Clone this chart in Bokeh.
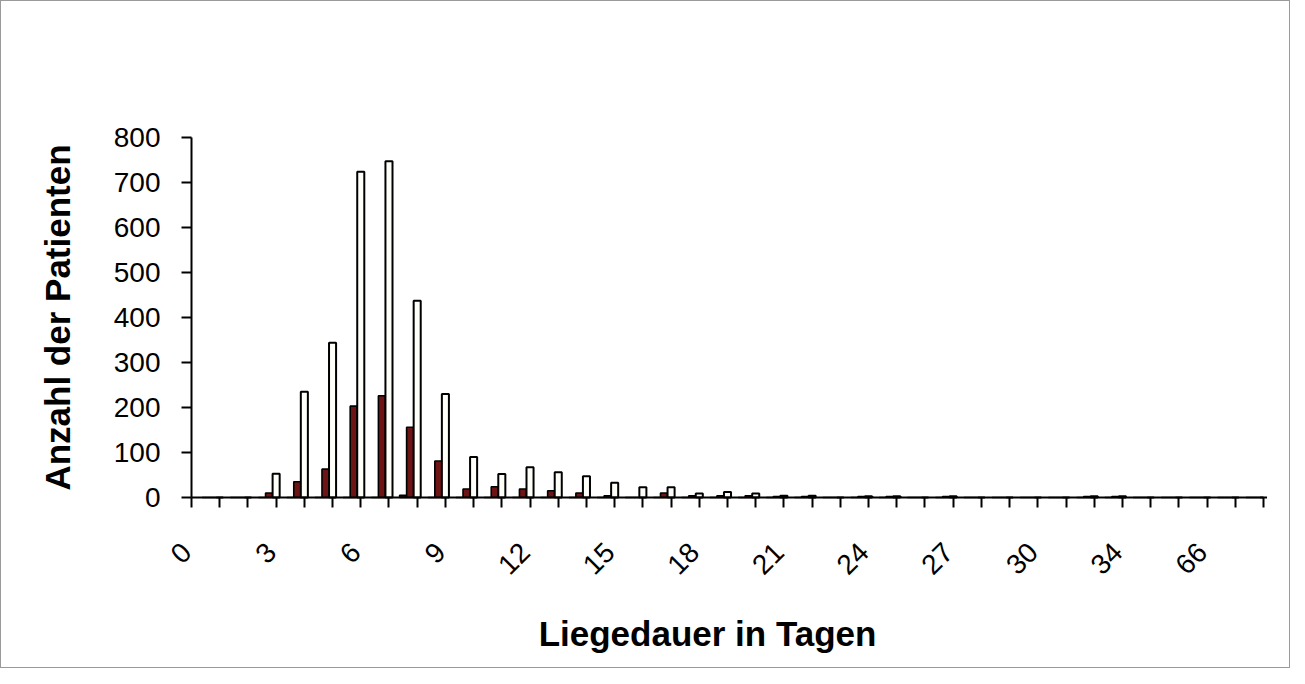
import numpy as np
from math import pi
from bokeh.plotting import figure
from bokeh.models import Range1d, FixedTicker, ColumnDataSource, LinearAxis
from bokeh.core.properties import value
from bokeh.embed import file_html
from bokeh.resources import INLINE

# ---- data ----
days = [str(d) for d in range(0, 31)] + ["31", "33", "34", "35", "38", "66", "70"]
series_a = [0, 0, 0, 0, 0, 0, 0, 5, 0, 0, 0, 0, 0, 0, 0, 0, 0, 0, 0, 0,
            0, 0, 0, 0, 0, 0, 0, 0, 0, 0, 0, 0, 0, 0, 0, 0, 0, 0]
series_b = [0, 0, 10, 35, 63, 203, 226, 156, 81, 19, 24, 19, 15, 10, 4, 0, 10, 4, 4, 4,
            2, 2, 0, 2, 2, 0, 2, 0, 0, 0, 0, 2, 2, 0, 0, 0, 0, 0]
series_c = [0, 0, 53, 235, 344, 724, 747, 437, 230, 90, 52, 67, 56, 47, 33, 23, 23, 9, 12, 9,
            4, 4, 0, 3, 3, 0, 3, 0, 0, 0, 0, 3, 3, 0, 0, 0, 0, 0]
y_ticks = [0, 100, 200, 300, 400, 500, 600, 700, 800]
label_step = 3
x_title = "Liegedauer in Tagen"
y_title = "Anzahl der Patienten"

n = len(days)
idx = np.arange(n) + 0.5
src = ColumnDataSource(dict(x=idx, a=series_a, b=series_b, c=series_c, day=days))

# ---- layout (pixels inside the figure) ----
W, H = 1290, 668
PL, PR, PT, PB = 190, 28, 136, 172          # plot-area margins
cw = (W - PL - PR) / n                       # px per category
ppu = (H - PT - PB) / (y_ticks[-1] - y_ticks[0])  # px per y unit

p = figure(width=W, height=H, output_backend="svg", toolbar_location=None,
           x_range=Range1d(-PL / cw, n + PR / cw),
           y_range=Range1d(-PB / ppu, y_ticks[-1] + PT / ppu),
           x_axis_location=None, y_axis_location=None,
           min_border=0, background_fill_color="white", border_fill_color="white")
p.styles = {"border": "1px solid #9a9a9a"}
p.outline_line_color = None
p.xgrid.grid_line_color = None
p.ygrid.grid_line_color = None

bw = 0.25
p.vbar(x="x", top="a", width=bw, source=src, fill_color="#2a0808", line_color="black", line_width=1.5)
p.vbar(x=idx + bw, top=series_b, width=bw, fill_color="#6e1414", line_color="black", line_width=1.6)
p.vbar(x=idx + 2 * bw, top=series_c, width=bw, fill_color="#fffffa", line_color="black", line_width=2)

# x axis at y=0: ticks at category boundaries
xa = LinearAxis(fixed_location=0, bounds=(0, n),
                ticker=FixedTicker(ticks=[], minor_ticks=list(range(0, n + 1))))
xa.major_label_text_font_size = "0px"
xa.major_label_standoff = 0
xa.major_tick_out = 0
xa.major_tick_in = 0
xa.minor_tick_out = 10
xa.minor_tick_in = 0
xa.minor_tick_line_width = 2
xa.minor_tick_line_color = "black"
xa.axis_line_width = 2
xa.axis_line_color = "black"
p.add_layout(xa, "below")

# y axis at x=0
ya = LinearAxis(fixed_location=0, bounds=(y_ticks[0], y_ticks[-1]),
                ticker=FixedTicker(ticks=y_ticks))
ya.minor_tick_line_color = None
ya.major_tick_out = 10
ya.major_tick_in = 0
ya.major_tick_line_width = 2
ya.axis_line_width = 2
ya.axis_line_color = "black"
ya.major_label_standoff = 21
ya.major_label_text_font = "Liberation Sans"
ya.major_label_text_font_size = "28px"
ya.major_label_text_color = "black"
p.add_layout(ya, "left")

# rotated category labels (every third category)
lab_i = list(range(0, n, label_step))
p.text(x=[idx[i] for i in lab_i], y=[-50 / ppu] * len(lab_i),
       text=[days[i] for i in lab_i], angle=pi / 4, x_offset=-19,
       text_align="right", text_baseline="middle",
       text_font=value("Liberation Sans"), text_font_size="28px", text_color="black")

# axis titles
p.text(x=[n / 2], y=[-136 / ppu], text=[x_title], x_offset=-20,
       text_align="center", text_baseline="alphabetic",
       text_font=value("Liberation Sans"), text_font_size="35px",
       text_font_style="bold", text_color="black")
p.text(x=[-(PL - 56) / cw], y=[y_ticks[-1] / 2], text=[y_title], angle=pi / 2,
       text_align="center", text_baseline="alphabetic",
       text_font=value("Liberation Sans"), text_font_size="35px",
       text_font_style="bold", text_color="black")

open("out.html", "w").write(file_html(p, INLINE))
